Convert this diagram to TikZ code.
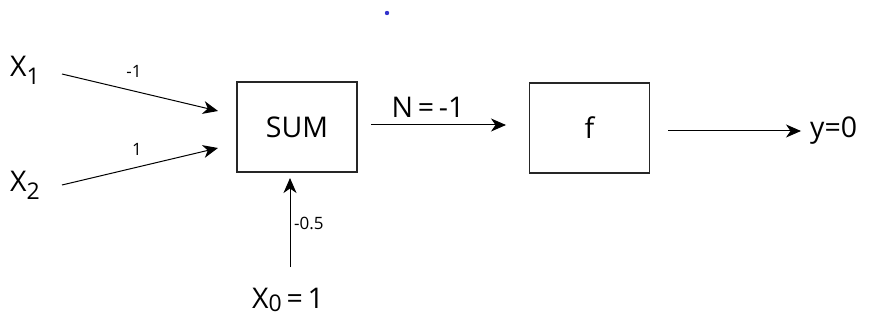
\documentclass[tikz,border=0pt]{standalone}
\usepackage{fontspec}
\setmainfont{Open Sans}
\usetikzlibrary{arrows.meta}
\begin{document}
\begin{tikzpicture}[x=1pt,y=-1pt,
  box/.style={draw=black!85,line width=1.2pt,minimum width=120pt,minimum height=90pt,inner sep=0pt},
  big/.style={font=\fontsize{28.5}{32}\selectfont,inner sep=0pt},
  small/.style={font=\fontsize{17}{19}\selectfont,inner sep=0pt},
  conn/.style={line width=1pt,-{Stealth[length=15pt,width=13pt,inset=4.5pt]}}]
\useasboundingbox (0,0) rectangle (869,320);
\fill[blue!75!black!80] (387,13) circle (2.2);
% boxes
\node[box,big] (sum) at (297,127) {SUM};
\node[box,big] (f) at (589.5,128) {f};
% labels
\node[big,anchor=west] (x1) at (10,70) {X\raisebox{-8pt}{\fontsize{23}{26}\selectfont 1}};
\node[big,anchor=west] (x2) at (10,185) {X\raisebox{-8pt}{\fontsize{23}{26}\selectfont 2}};
\node[big] (x0) at (288,300) {X\raisebox{-3pt}{\fontsize{23}{26}\selectfont 0}\,=\,1};
\node[big,anchor=west] (y) at (810,131) {y=0};
% connector ends
\coordinate (a1) at (62,74);
\coordinate (b1) at (218,111);
\coordinate (a2) at (62,185);
\coordinate (b2) at (218,148);
\coordinate (a0) at (290,267);
\coordinate (b0) at (290,178);
\coordinate (an) at (371,125);
\coordinate (bn) at (506,125);
\coordinate (ay) at (668,131);
\coordinate (by) at (801,131);
\draw[conn] (a1) -- (b1);
\draw[conn] (a2) -- (b2);
\draw[conn] (a0) -- (b0);
\draw[conn] (an) -- (bn);
\draw[conn] (ay) -- (by);
% weights
\node[small] (w1) at (134,71) {-1};
\node[small] (w2) at (137,149) {1};
\node[small,anchor=west] (w0) at (294,223) {-0.5};
\node[big] (wn) at (428,107) {N\,=\,-1};
\end{tikzpicture}
\end{document}
